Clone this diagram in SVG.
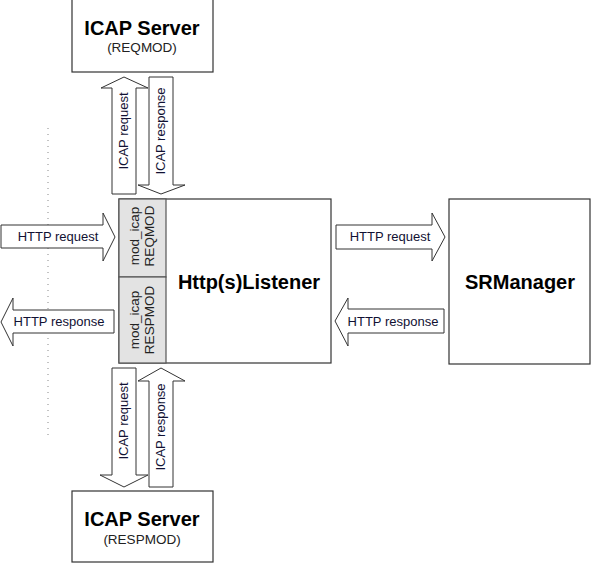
<svg xmlns="http://www.w3.org/2000/svg" width="592" height="563" viewBox="0 0 592 563">
<style>
.box{fill:#fff;stroke:#333;stroke-width:1.2}
.cell{fill:#e3e3e3;stroke:#555;stroke-width:1.2}
.arrow{fill:#fff;stroke:#333;stroke-width:1}
.title{font-family:"Liberation Sans",Arial,sans-serif;font-weight:bold;font-size:20px;fill:#000;text-anchor:middle}
.sub{font-family:"Liberation Sans",Arial,sans-serif;font-size:13.5px;fill:#222;text-anchor:middle}
.lbl{font-family:"Liberation Sans",Arial,sans-serif;font-size:13px;fill:#111133;text-anchor:middle}
</style>
<rect width="592" height="563" fill="#fff"/>
<line x1="48" y1="128" x2="48" y2="436" stroke="#888" stroke-width="1" stroke-dasharray="1,5"/>
<g id="icap-reqmod">
<rect class="box" x="72" y="-1" width="141" height="73"/>
<text class="title" x="142" y="35">ICAP Server</text>
<text class="sub" x="142" y="52">(REQMOD)</text>
</g>
<g id="icap-respmod">
<rect class="box" x="72" y="491" width="141" height="71"/>
<text class="title" x="142" y="526">ICAP Server</text>
<text class="sub" x="142" y="544">(RESPMOD)</text>
</g>
<g id="listener">
<rect class="box" x="119" y="199" width="212" height="164"/>
<rect class="cell" x="119" y="199" width="47" height="78"/>
<rect class="cell" x="119" y="277" width="47" height="86"/>
<text class="sub" transform="translate(139,236) rotate(-90)">mod_icap</text>
<text class="sub" transform="translate(154,236) rotate(-90)">REQMOD</text>
<text class="sub" transform="translate(139,320) rotate(-90)">mod_icap</text>
<text class="sub" transform="translate(154,320) rotate(-90)">RESPMOD</text>
<text class="title" x="249" y="289">Http(s)Listener</text>
</g>
<g id="srmanager">
<rect class="box" x="449" y="199" width="141" height="165"/>
<text class="title" x="520" y="289">SRManager</text>
</g>
<g id="connectors">
<polygon class="arrow" points="1,225 103,225 103,213 115,237 103,261 103,248 1,248"/>
<text class="lbl" x="58" y="241">HTTP request</text>
<polygon class="arrow" points="1,322 13,298 13,310 114,310 114,333 13,333 13,346"/>
<text class="lbl" x="59" y="326">HTTP response</text>
<polygon class="arrow" points="336,225 432,225 432,213 445,237 432,261 432,249 336,249"/>
<text class="lbl" x="390" y="241">HTTP request</text>
<polygon class="arrow" points="335,321 348,298 348,309 444,309 444,333 348,333 348,346"/>
<text class="lbl" x="393" y="326">HTTP response</text>
<polygon class="arrow" points="124,77 148,88 136,88 136,194 112,194 112,88 101,88"/>
<text class="lbl" transform="translate(128,131) rotate(-90)">ICAP request</text>
<polygon class="arrow" points="149,77 173,77 173,185 185,185 161,194 138,185 149,185"/>
<text class="lbl" transform="translate(165,131) rotate(-90)">ICAP response</text>
<polygon class="arrow" points="112,368 136,368 136,475 148,475 124,487 100,475 112,475"/>
<text class="lbl" transform="translate(128,421) rotate(-90)">ICAP request</text>
<polygon class="arrow" points="161,368 185,381 173,381 173,487 149,487 149,381 138,381"/>
<text class="lbl" transform="translate(165,427) rotate(-90)">ICAP response</text>
</g>
</svg>
